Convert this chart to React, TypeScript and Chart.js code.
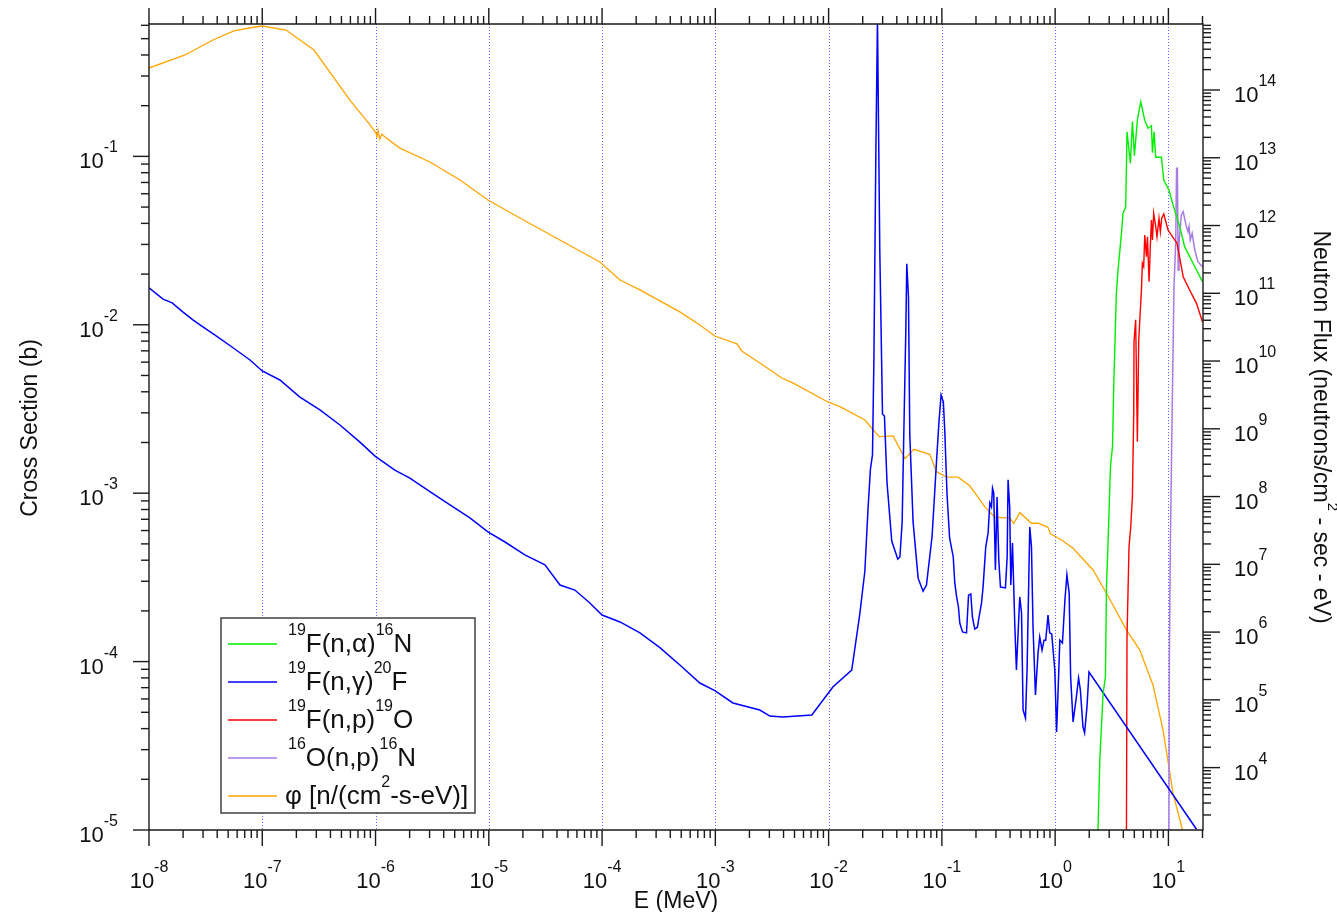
import React, { useEffect, useRef } from "react";
import { Chart, registerables } from "chart.js";

Chart.register(...registerables);

const FONT = '"Liberation Sans", Arial, Helvetica, sans-serif';

// ---- axis definitions (decade exponents used for tick labels) ----
const xTickExponents = [-8, -7, -6, -5, -4, -3, -2, -1, 0, 1];
const leftTickExponents = [-5, -4, -3, -2, -1];
const rightTickExponents = [4, 5, 6, 7, 8, 9, 10, 11, 12, 13, 14];
const gridExponents = [-7, -6, -5, -4, -3, -2, -1, 0, 1];

const xRange = [1e-8, 20.2];
const leftRange = [1e-5, 0.611];
const rightRange = [1.2e3, 9.42e14];

// ---- series: [E (MeV), value] ----
const fAlphaData: [number, number][] = [
  [2.38, 9e-6], [2.48, 2.61e-5], [2.65, 6.49e-5], [2.78, 8.13e-5], [2.84, 2.79e-4], [2.93, 5.04e-4],
  [3.08, 1.44e-3], [3.21, 1.89e-3], [3.29, 4.28e-3], [3.47, 1.54e-2], [3.59, 2.11e-2], [3.85, 3.49e-2],
  [3.97, 4.59e-2], [4.2, 5.02e-2], [4.31, 0.14], [4.62, 9.1e-2], [4.81, 0.161], [5.01, 0.101],
  [5.32, 0.164], [5.7, 0.211], [6.18, 0.164], [6.61, 0.147], [7.08, 0.152], [7.23, 0.105],
  [7.47, 0.14], [7.73, 9.89e-2], [8.67, 9.89e-2], [9.1, 7.24e-2], [10.1, 6.31e-2], [11.0, 5.14e-2],
  [12.6, 3.83e-2], [13.9, 2.91e-2], [16.5, 2.32e-2], [20.0, 1.8e-2],
];

const fGammaData: [number, number][] = [
  [1.0e-8, 1.66e-2], [1.33e-8, 1.42e-2], [1.6e-8, 1.35e-2], [2.0e-8, 1.19e-2], [2.44e-8, 1.07e-2],
  [2.82e-8, 1.0e-2], [3.83e-8, 8.69e-3], [5.4e-8, 7.38e-3], [7.79e-8, 6.18e-3], [1.0e-7, 5.32e-3],
  [1.43e-7, 4.7e-3], [2.15e-7, 3.72e-3], [3.23e-7, 3.12e-3], [4.85e-7, 2.54e-3], [7.28e-7, 2.01e-3],
  [9.9e-7, 1.66e-3], [1.48e-6, 1.37e-3], [2.01e-6, 1.23e-3], [3.02e-6, 1.02e-3], [4.54e-6, 8.51e-4],
  [6.81e-6, 7.13e-4], [9.82e-6, 5.89e-4], [1.39e-5, 5.13e-4], [2.08e-5, 4.3e-4], [3.13e-5, 3.75e-4],
  [4.25e-5, 2.85e-4], [5.75e-5, 2.66e-4], [7.8e-5, 2.23e-4], [1.0e-4, 1.89e-4], [1.44e-4, 1.72e-4],
  [2.16e-4, 1.48e-4], [3.24e-4, 1.21e-4], [4.86e-4, 9.55e-5], [7.3e-4, 7.46e-5], [9.9e-4, 6.73e-5],
  [1.43e-3, 5.68e-5], [2.47e-3, 5.16e-5], [3.03e-3, 4.75e-5], [3.94e-3, 4.69e-5], [7.11e-3, 4.82e-5],
  [1.09e-2, 7.06e-5], [1.6e-2, 8.91e-5], [1.88e-2, 1.89e-4], [2.09e-2, 3.45e-4], [2.23e-2, 8.17e-4],
  [2.34e-2, 1.39e-3], [2.44e-2, 1.69e-3], [2.51e-2, 6.1e-3], [2.61e-2, 9.77e-2], [2.7e-2, 0.65],
  [2.83e-2, 2.78e-2], [2.99e-2, 2.95e-3], [3.11e-2, 2.87e-3], [3.28e-2, 1.15e-3], [3.61e-2, 5.2e-4],
  [4.08e-2, 4.06e-4], [4.26e-2, 4.18e-4], [4.46e-2, 6.75e-4], [4.61e-2, 2.22e-3], [4.8e-2, 8.93e-3],
  [4.9e-2, 2.3e-2], [5.07e-2, 1.46e-2], [5.21e-2, 2.22e-3], [5.57e-2, 6.75e-4], [6.17e-2, 3.13e-4],
  [6.82e-2, 2.62e-4], [7.31e-2, 2.85e-4], [8.2e-2, 5.57e-4], [8.96e-2, 1.53e-3], [9.44e-2, 2.69e-3],
  [9.84e-2, 3.83e-3], [0.103, 3.48e-3], [0.106, 2.37e-3], [0.111, 9.89e-4], [0.117, 5.42e-4],
  [0.126, 4.18e-4], [0.13, 2.93e-4], [0.135, 2.42e-4], [0.14, 2.11e-4], [0.144, 1.69e-4],
  [0.152, 1.5e-4], [0.165, 1.48e-4], [0.172, 2.48e-4], [0.18, 2.52e-4], [0.186, 1.84e-4],
  [0.195, 1.56e-4], [0.206, 1.6e-4], [0.213, 1.84e-4], [0.224, 2.23e-4], [0.231, 2.77e-4],
  [0.244, 4.8e-4], [0.256, 5.81e-4], [0.265, 8.75e-4], [0.274, 8.28e-4], [0.28, 1.07e-3],
  [0.287, 1.0e-3], [0.297, 3.5e-4], [0.307, 9.48e-4], [0.318, 4.01e-4], [0.329, 2.77e-4],
  [0.364, 2.74e-4], [0.377, 4.18e-4], [0.384, 1.2e-3], [0.397, 8.28e-4], [0.406, 2.85e-4],
  [0.42, 5.06e-4], [0.441, 1.6e-4], [0.455, 8.91e-5], [0.487, 2.42e-4], [0.505, 1.95e-4],
  [0.521, 5.16e-5], [0.547, 4.62e-5], [0.565, 8.91e-5], [0.597, 6.3e-4], [0.618, 4.8e-4],
  [0.638, 1.6e-4], [0.67, 6.34e-5], [0.706, 1.12e-4], [0.731, 1.4e-4], [0.766, 1.17e-4],
  [0.798, 1.34e-4], [0.826, 1.34e-4], [0.865, 1.89e-4], [0.895, 1.48e-4], [0.933, 1.46e-4],
  [0.993, 8.91e-5], [1.03, 3.82e-5], [1.06, 6.51e-5], [1.1, 1.34e-4], [1.16, 1.29e-4],
  [1.22, 2.32e-4], [1.27, 3.27e-4], [1.33, 2.55e-4], [1.37, 8.11e-5], [1.44, 4.38e-5],
  [1.54, 6.17e-5], [1.61, 8.0e-5], [1.67, 6.78e-5], [1.76, 4.09e-5], [1.82, 3.77e-5],
  [1.91, 5.38e-5], [1.99, 8.67e-5], [17.7, 1.01e-5],
];

const fProtonData: [number, number][] = [
  [4.26, 9e-6], [4.31, 1.41e-4], [4.49, 4.81e-4], [4.65, 6.32e-4], [4.81, 9.53e-4], [4.94, 2.98e-3],
  [4.97, 7.94e-3], [5.14, 1.07e-2], [5.32, 2.02e-3], [5.47, 8.13e-3], [5.78, 1.61e-2], [5.89, 2.32e-2],
  [6.05, 2.21e-2], [6.18, 3.41e-2], [6.4, 2.54e-2], [6.53, 3.33e-2], [6.75, 1.8e-2], [6.94, 3.05e-2],
  [7.08, 4.19e-2], [7.23, 3.19e-2], [7.41, 4.59e-2], [7.73, 3.83e-2], [7.93, 3.33e-2], [8.26, 4.29e-2],
  [8.49, 3.57e-2], [8.73, 4.29e-2], [9.1, 4.55e-2], [9.93, 3.65e-2], [11.9, 3.05e-2], [13.5, 1.93e-2],
  [15.4, 1.61e-2], [17.7, 1.34e-2], [20.0, 1.04e-2],
];

const oProtonData: [number, number][] = [
  [10.1, 9e-6], [10.2, 1.07e-4], [10.4, 5.06e-4], [10.8, 3.12e-3], [11.2, 1.68e-2], [11.6, 3.06e-2],
  [11.8, 8.49e-2], [12.0, 8.49e-2], [12.2, 2.11e-2], [12.4, 3.05e-2], [13.0, 4.49e-2], [13.5, 4.7e-2],
  [14.4, 3.83e-2], [14.9, 3.57e-2], [15.2, 3.83e-2], [15.6, 3.19e-2], [16.2, 3.49e-2], [17.1, 2.78e-2],
  [18.2, 2.37e-2], [20.0, 2.21e-2],
];

const fluxData: [number, number][] = [
  [1.0e-8, 2.11e14], [2.08e-8, 3.29e14], [3.67e-8, 5.47e14], [5.62e-8, 7.43e14], [8.63e-8, 8.51e14],
  [1.0e-7, 8.8e14], [1.62e-7, 7.67e14], [2.86e-7, 3.89e14], [5.94e-7, 7.11e13], [8.93e-7, 3.05e13],
  [1.01e-6, 2.32e13], [1.03e-6, 1.96e13], [1.05e-6, 2.57e13], [1.09e-6, 1.89e13], [1.14e-6, 2.24e13],
  [1.21e-6, 2.03e13], [1.64e-6, 1.39e13], [3.02e-6, 8.67e12], [5.56e-6, 4.7e12], [9.82e-6, 2.38e12],
  [1.88e-5, 1.29e12], [4.24e-5, 6.12e11], [9.57e-5, 2.9e11], [1.44e-4, 1.57e11], [2.16e-4, 1.12e11],
  [4.86e-4, 5.31e10], [7.3e-4, 3.4e10], [9.9e-4, 2.34e10], [1.55e-3, 1.79e10], [1.71e-3, 1.41e10],
  [2.47e-3, 9.37e9], [3.86e-3, 5.62e9], [4.83e-3, 4.75e9], [9.84e-3, 2.49e9], [1.26e-2, 2.12e9],
  [2.09e-2, 1.35e9], [2.79e-2, 7.66e8], [3.71e-2, 7.85e8], [4.73e-2, 3.63e8], [5.65e-2, 4.99e8],
  [7.82e-2, 4.21e8], [8.96e-2, 2.33e8], [0.11, 1.93e8], [0.139, 1.93e8], [0.176, 1.44e8],
  [0.239, 7.1e7], [0.293, 4.95e7], [0.397, 4.79e7], [0.431, 4.04e7], [0.487, 5.79e7],
  [0.618, 4.04e7], [0.707, 4.04e7], [0.865, 3.52e7], [0.909, 2.81e7], [1.14, 2.29e7],
  [1.44, 1.73e7], [2.16, 8.26e6], [2.84, 3.74e6], [4.26, 1.08e6], [5.58, 5.46e5],
  [7.31, 1.66e5], [8.96, 3.6e4], [10.98, 4.19e3], [13.3, 1.2e3], [14.0, 8.0e2],
];

type Part = { t: string; sup?: boolean };

const seriesColors = ["#00ee00", "#0000ff", "#ff0000", "#a77be6", "#ffa500"];
const legendLabels: Part[][] = [
  [{ t: "19", sup: true }, { t: "F(n,α)" }, { t: "16", sup: true }, { t: "N" }],
  [{ t: "19", sup: true }, { t: "F(n,γ)" }, { t: "20", sup: true }, { t: "F" }],
  [{ t: "19", sup: true }, { t: "F(n,p)" }, { t: "19", sup: true }, { t: "O" }],
  [{ t: "16", sup: true }, { t: "O(n,p)" }, { t: "16", sup: true }, { t: "N" }],
  [{ t: "φ [n/(cm" }, { t: "2", sup: true }, { t: "-s-eV)]" }],
];
const leftTitle: Part[] = [{ t: "Cross Section (b)" }];
const rightTitle: Part[] = [{ t: "Neutron Flux (neutrons/cm" }, { t: "2", sup: true }, { t: " - sec - eV)" }];
const bottomTitle: Part[] = [{ t: "E (MeV)" }];

function richWidth(ctx: CanvasRenderingContext2D, parts: Part[], main: number, sup: number) {
  let w = 0;
  for (const p of parts) {
    ctx.font = `${p.sup ? sup : main}px ${FONT}`;
    w += ctx.measureText(p.t).width;
  }
  return w;
}

function drawRich(
  ctx: CanvasRenderingContext2D,
  parts: Part[],
  x: number,
  y: number,
  align: "left" | "right" | "center",
  main: number,
  sup: number,
  rise: number
) {
  const w = richWidth(ctx, parts, main, sup);
  let cx = align === "left" ? x : align === "right" ? x - w : x - w / 2;
  ctx.textAlign = "left";
  ctx.textBaseline = "alphabetic";
  for (const p of parts) {
    ctx.font = `${p.sup ? sup : main}px ${FONT}`;
    ctx.fillText(p.t, cx, p.sup ? y - rise : y);
    cx += ctx.measureText(p.t).width;
  }
}

const powParts = (e: number): Part[] => [{ t: "10" }, { t: String(e), sup: true }];

function logTicks(min: number, max: number) {
  const out: { v: number; major: boolean }[] = [];
  const k0 = Math.floor(Math.log10(min));
  const k1 = Math.ceil(Math.log10(max));
  for (let k = k0; k <= k1; k++) {
    for (let m = 1; m <= 9; m++) {
      const v = m * Math.pow(10, k);
      if (v >= min * 0.9999 && v <= max * 1.0001) out.push({ v, major: m === 1 });
    }
  }
  return out;
}

const MAJOR = 16;
const MINOR = 8;

const decorPlugin = {
  id: "decor",
  beforeDatasetsDraw(chart: any) {
    const ctx: CanvasRenderingContext2D = chart.ctx;
    const ca = chart.chartArea;
    const xs = chart.scales.x;
    ctx.save();
    ctx.strokeStyle = "rgba(70,70,255,0.85)";
    ctx.lineWidth = 1;
    ctx.setLineDash([1, 2]);
    for (const e of gridExponents) {
      const px = Math.round(xs.getPixelForValue(Math.pow(10, e))) + 0.5;
      ctx.beginPath();
      ctx.moveTo(px, ca.top);
      ctx.lineTo(px, ca.bottom);
      ctx.stroke();
    }
    ctx.restore();
  },
  afterDatasetsDraw(chart: any) {
    const ctx: CanvasRenderingContext2D = chart.ctx;
    const ca = chart.chartArea;
    const xs = chart.scales.x;
    const yl = chart.scales.y;
    const yr = chart.scales.y1;
    ctx.save();
    ctx.strokeStyle = "#1a1a1a";
    ctx.fillStyle = "#111";
    ctx.lineWidth = 1.4;
    ctx.setLineDash([]);
    // frame
    ctx.beginPath();
    ctx.moveTo(ca.left, ca.top);
    ctx.lineTo(ca.right, ca.top);
    ctx.lineTo(ca.right, ca.bottom);
    ctx.lineTo(ca.left, ca.bottom);
    ctx.closePath();
    ctx.stroke();
    // x ticks (bottom + top)
    for (const t of logTicks(xRange[0], xRange[1])) {
      const px = xs.getPixelForValue(t.v);
      const len = t.major ? MAJOR : MINOR;
      ctx.beginPath();
      ctx.moveTo(px, ca.bottom);
      ctx.lineTo(px, ca.bottom + len);
      ctx.moveTo(px, ca.top);
      ctx.lineTo(px, ca.top - len);
      ctx.stroke();
    }
    for (const t of logTicks(leftRange[0], leftRange[1])) {
      const py = yl.getPixelForValue(t.v);
      const len = t.major ? MAJOR : MINOR;
      ctx.beginPath();
      ctx.moveTo(ca.left, py);
      ctx.lineTo(ca.left - len, py);
      ctx.stroke();
    }
    for (const t of logTicks(rightRange[0], rightRange[1])) {
      const py = yr.getPixelForValue(t.v);
      const len = t.major ? MAJOR + 1 : MINOR;
      ctx.beginPath();
      ctx.moveTo(ca.right, py);
      ctx.lineTo(ca.right + len, py);
      ctx.stroke();
    }
    // tick labels
    for (const e of xTickExponents) {
      const px = xs.getPixelForValue(Math.pow(10, e));
      drawRich(ctx, powParts(e), px, ca.bottom + 58, "center", 22, 16, 16);
    }
    for (const e of leftTickExponents) {
      const py = yl.getPixelForValue(Math.pow(10, e));
      drawRich(ctx, powParts(e), ca.left - 31, py + 12, "right", 22, 16, 16);
    }
    for (const e of rightTickExponents) {
      const py = yr.getPixelForValue(Math.pow(10, e));
      drawRich(ctx, powParts(e), ca.right + 31, py + 12, "left", 22, 16, 16);
    }
    // titles
    drawRich(ctx, bottomTitle, (ca.left + ca.right) / 2, ca.bottom + 78, "center", 23, 15, 14);
    ctx.save();
    ctx.translate(37, (ca.top + ca.bottom) / 2 + 1);
    ctx.rotate(-Math.PI / 2);
    drawRich(ctx, leftTitle, 0, 0, "center", 23, 15, 14);
    ctx.restore();
    ctx.save();
    ctx.translate(ca.right + 111, (ca.top + ca.bottom) / 2);
    ctx.rotate(Math.PI / 2);
    drawRich(ctx, rightTitle, 0, 0, "center", 23, 15, 14);
    ctx.restore();
    // legend
    const lx = 221, ly = 618, lw = 254, lh = 195;
    ctx.fillStyle = "#ffffff";
    ctx.fillRect(lx, ly, lw, lh);
    ctx.strokeStyle = "#333";
    ctx.lineWidth = 1.4;
    ctx.strokeRect(lx, ly, lw, lh);
    legendLabels.forEach((parts, i) => {
      const cy = ly + 26 + i * 38;
      ctx.strokeStyle = seriesColors[i];
      ctx.lineWidth = 1.5;
      ctx.beginPath();
      ctx.moveTo(lx + 7, cy);
      ctx.lineTo(lx + 56, cy);
      ctx.stroke();
      ctx.fillStyle = "#111";
      drawRich(ctx, parts, i === 4 ? lx + 64 : lx + 67, cy + 8, "left", 26, 16, 17);
    });
    ctx.restore();
  },
};

export default function App() {
  const canvasRef = useRef<HTMLCanvasElement | null>(null);

  useEffect(() => {
    const canvas = canvasRef.current;
    if (!canvas) return;
    const toXY = (d: [number, number][]) => d.map(([x, y]) => ({ x, y }));
    const ds = (label: string, data: [number, number][], color: string, axis: string, width: number) => ({
      label,
      data: toXY(data),
      yAxisID: axis,
      borderColor: color,
      backgroundColor: color,
      borderWidth: width,
      pointRadius: 0,
      fill: false,
      tension: 0,
    });
    const chart = new Chart(canvas, {
      type: "line",
      data: {
        datasets: [
          ds("19F(n,α)16N", fAlphaData, seriesColors[0], "y", 1.4),
          ds("19F(n,γ)20F", fGammaData, seriesColors[1], "y", 1.5),
          ds("19F(n,p)19O", fProtonData, seriesColors[2], "y", 1.4),
          ds("16O(n,p)16N", oProtonData, seriesColors[3], "y", 1.5),
          ds("φ [n/(cm2-s-eV)]", fluxData, seriesColors[4], "y1", 1.3),
        ],
      },
      options: {
        responsive: false,
        animation: false,
        devicePixelRatio: 1,
        layout: { padding: { left: 149, right: 134, top: 24, bottom: 82 } },
        plugins: { legend: { display: false }, tooltip: { enabled: false } },
        scales: {
          x: { type: "logarithmic", min: xRange[0], max: xRange[1], display: false },
          y: { type: "logarithmic", position: "left", min: leftRange[0], max: leftRange[1], display: false },
          y1: { type: "logarithmic", position: "right", min: rightRange[0], max: rightRange[1], display: false },
        },
      },
      plugins: [decorPlugin],
    } as any);
    return () => chart.destroy();
  }, []);

  return (
    <div style={{ position: "absolute", left: 0, top: 0, width: 1337, height: 912, background: "#fff" }}>
      <canvas ref={canvasRef} width={1337} height={912} style={{ display: "block", width: 1337, height: 912 }} />
    </div>
  );
}
